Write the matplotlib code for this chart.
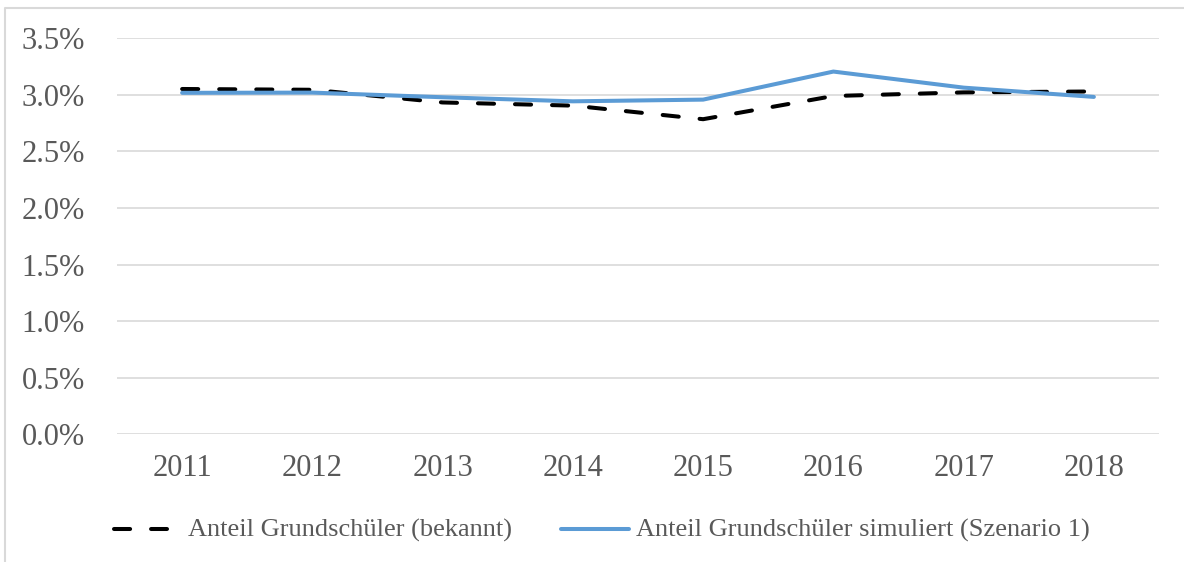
import matplotlib
matplotlib.use("Agg")
import matplotlib.pyplot as plt
from matplotlib.lines import Line2D
from matplotlib.ticker import FuncFormatter

years = [2011, 2012, 2013, 2014, 2015, 2016, 2017, 2018]
known = [3.052, 3.045, 2.933, 2.905, 2.785, 2.990, 3.022, 3.030]
simulated = [3.018, 3.020, 2.979, 2.943, 2.958, 3.206, 3.064, 2.982]
yticks = [0.0, 0.5, 1.0, 1.5, 2.0, 2.5, 3.0, 3.5]
label_known = "Anteil Grundschüler (bekannt)"
label_sim = "Anteil Grundschüler simuliert (Szenario 1)"

W, H = 1184, 562
FONT = "Liberation Serif"
GRAY_TXT = "#595959"
GRID = "#D9D9D9"
BLUE = "#5B9BD5"

fig = plt.figure(figsize=(W / 100, H / 100), dpi=100)
fig.patch.set_facecolor("white")

def fx(px):
    return px / W

def fy(py):
    return 1 - py / H

ax = fig.add_axes([fx(117), fy(434.3), fx(1159) - fx(117), fy(38.3) - fy(434.3)])
ax.set_xlim(2010.5, 2018.5)
ax.set_ylim(0, 3.5)
ax.set_yticks(yticks)
ax.set_xticks(years)
ax.yaxis.set_major_formatter(FuncFormatter(lambda v, p: f"{v:.1f}%"))
ax.grid(axis="y", color=GRID, linewidth=1.2)
ax.set_axisbelow(True)
for s in ax.spines.values():
    s.set_visible(False)
ax.tick_params(axis="both", length=0, labelsize=22, labelcolor=GRAY_TXT)
ax.tick_params(axis="y", pad=23)
ax.tick_params(axis="x", pad=14)
for lab in ax.get_xticklabels() + ax.get_yticklabels():
    lab.set_fontfamily(FONT)

lw = 2.9
ax.plot(years, known, color="black", linewidth=lw, dashes=(4.0, 5.2),
        dash_capstyle="round", solid_joinstyle="round", zorder=3)
ax.plot(years, simulated, color=BLUE, linewidth=lw,
        solid_capstyle="round", solid_joinstyle="round", zorder=4)

# legend (manual layout)
ly = fy(529)
fig.add_artist(Line2D([fx(113.7), fx(166.7)], [ly, ly], color="black",
                      linewidth=lw, dashes=(4.0, 5.2), dash_capstyle="round"))
fig.text(fx(188), fy(537), label_known, fontsize=19, family=FONT,
         color=GRAY_TXT, va="baseline", ha="left")
fig.add_artist(Line2D([fx(561), fx(629)], [ly, ly], color=BLUE,
                      linewidth=lw, solid_capstyle="round"))
fig.text(fx(636), fy(537), label_sim, fontsize=19, family=FONT,
         color=GRAY_TXT, va="baseline", ha="left")

# outer chart border (left & top visible)
fig.add_artist(Line2D([fx(5), fx(5), fx(1184)], [fy(562), fy(7.5), fy(7.5)],
                      color=GRID, linewidth=1.5))

fig.savefig("out.png", dpi=100, facecolor="white")
